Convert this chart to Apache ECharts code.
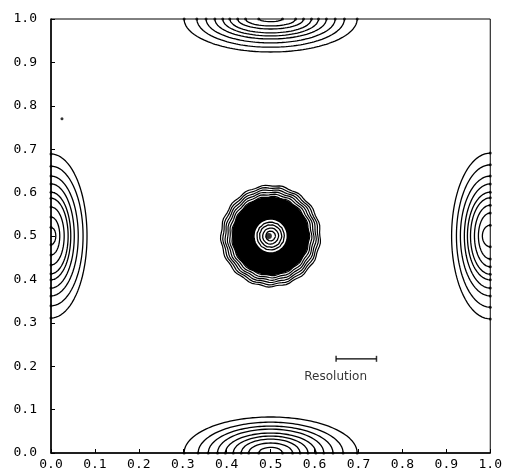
<!DOCTYPE html>
<html>
<head>
<meta charset="utf-8">
<script src="https://cdn.jsdelivr.net/npm/echarts@6/dist/echarts.min.js"></script>
<style>
  html, body { margin: 0; padding: 0; background: #fff; }
  #chart { width: 505px; height: 475px; }
</style>
</head>
<body>
<div id="chart"></div>
<script>
// tick labels
const tickValues = [0, 0.1, 0.2, 0.3, 0.4, 0.5, 0.6, 0.7, 0.8, 0.9, 1.0]

// contour sizes (data units)
const topHalfWidth = [0.197, 0.168, 0.147, 0.127, 0.109, 0.093, 0.075, 0.057, 0.027]
const topDepth = [0.076, 0.065, 0.055, 0.046, 0.039, 0.032, 0.023, 0.016, 0.006]
const bottomHalfWidth = [0.197, 0.165, 0.142, 0.121, 0.103, 0.085, 0.067, 0.050, 0.027]
const bottomHeight = [0.083, 0.071, 0.062, 0.055, 0.046, 0.039, 0.032, 0.023, 0.013]
const leftHalfHeight = [0.189, 0.161, 0.138, 0.120, 0.101, 0.087, 0.067, 0.044, 0.020]
const leftDepth = [0.082, 0.073, 0.062, 0.053, 0.045, 0.039, 0.030, 0.020, 0.011]
const rightHalfHeight = [0.191, 0.164, 0.138, 0.120, 0.101, 0.088, 0.071, 0.053, 0.025]
const rightDepth = [0.088, 0.077, 0.068, 0.059, 0.052, 0.045, 0.036, 0.027, 0.018]

// central peak: outer rings, dense rings, inner rings
const blobOuter = [0.113, 0.108, 0.103, 0.098, 0.093, 0.088]
const blobDense = [0.084, 0.079, 0.074, 0.069, 0.064, 0.059, 0.054, 0.049, 0.044, 0.040]
const blobInner = [0.031, 0.025, 0.018, 0.011]
const blobCenter = [0.5, 0.5]

const resolutionBar = [0.649, 0.741]
const resolutionY = 0.217
const strayDots = [[0.025, 0.77]]

// elliptical arc around (cx, cy)
function arc(cx, cy, a, b, t0, t1) {
  const pts = []
  const n = 90
  for (let i = 0; i <= n; i++) {
    const t = t0 + (t1 - t0) * i / n
    pts.push([cx + a * Math.cos(t), cy + b * Math.sin(t)])
  }
  return pts
}

// ring with a little raggedness like the scanned contours
function ring(cx, cy, r, wobble) {
  const pts = []
  const n = 180
  for (let i = 0; i <= n; i++) {
    const t = 2 * Math.PI * i / n
    const w = 1 + wobble * Math.sin(17 * t + r * 90)
    pts.push([cx + r * w * Math.cos(t), cy + r * 1.03 * w * Math.sin(t)])
  }
  return pts
}

function joined(list) {
  const out = []
  list.forEach(p => { out.push(...p); out.push(null) })
  return out
}

const edgeArcs = []
const endDots = []
topHalfWidth.forEach((a, i) => {
  edgeArcs.push(arc(0.5, 1, a, topDepth[i], Math.PI, 2 * Math.PI))
  endDots.push([0.5 - a, 1], [0.5 + a, 1])
})
bottomHalfWidth.forEach((a, i) => {
  edgeArcs.push(arc(0.5, 0, a, bottomHeight[i], 0, Math.PI))
  endDots.push([0.5 - a, 0], [0.5 + a, 0])
})
leftHalfHeight.forEach((b, i) => {
  edgeArcs.push(arc(0, 0.5, leftDepth[i], b, -Math.PI / 2, Math.PI / 2))
  endDots.push([0, 0.5 - b], [0, 0.5 + b])
})
rightHalfHeight.forEach((b, i) => {
  edgeArcs.push(arc(1, 0.5, rightDepth[i], b, Math.PI / 2, 1.5 * Math.PI))
  endDots.push([1, 0.5 - b], [1, 0.5 + b])
})

const lineBase = {
  type: "line",
  showSymbol: false,
  symbol: "none",
  connectNulls: false,
  silent: true,
  clip: true,
}

const axisCommon = {
  type: "value",
  min: 0,
  max: 1,
  interval: 0.1,
  axisLine: { show: true, lineStyle: { color: "#000", width: 1.5 } },
  axisTick: { show: true, inside: true, length: 4, lineStyle: { color: "#000" } },
  splitLine: { show: false },
  axisLabel: {
    color: "#000",
    fontFamily: "DejaVu Sans Mono",
    fontSize: 13,
    formatter: v => v.toFixed(1),
  },
}

const chart = echarts.init(document.getElementById("chart"))
chart.setOption({
  animation: false,
  backgroundColor: "#fff",
  grid: { left: 51, right: 13, top: 19, bottom: 22, show: true, borderColor: "#000", borderWidth: 1 },
  xAxis: { ...axisCommon, axisLabel: { ...axisCommon.axisLabel, margin: 5 } },
  yAxis: { ...axisCommon, axisLabel: { ...axisCommon.axisLabel, margin: 14 } },
  series: [
    { ...lineBase, data: joined(edgeArcs), lineStyle: { color: "#000", width: 1.3 } },
    { ...lineBase, data: joined(blobOuter.map(r => ring(blobCenter[0], blobCenter[1], r, 0.012))), lineStyle: { color: "#000", width: 1.2 } },
    { ...lineBase, data: joined(blobDense.map(r => ring(blobCenter[0], blobCenter[1], r, 0.004))), lineStyle: { color: "#000", width: 3.2 } },
    { ...lineBase, data: joined(blobInner.map(r => ring(blobCenter[0], blobCenter[1], r, 0.02))), lineStyle: { color: "#000", width: 1.3 } },
    {
      type: "scatter", silent: true, symbol: "circle", symbolSize: 6,
      itemStyle: { color: "#000" }, data: [[blobCenter[0] - 0.004, blobCenter[1]]],
    },
    {
      type: "scatter", silent: true, symbol: "circle", symbolSize: 3,
      itemStyle: { color: "#000" }, data: endDots.concat(strayDots),
    },
    {
      ...lineBase,
      data: resolutionBar.map(x => [x, resolutionY]),
      lineStyle: { color: "#000", width: 1.3 },
    },
    {
      type: "scatter", silent: true, symbol: "rect", symbolSize: [1.5, 6],
      itemStyle: { color: "#000" }, data: resolutionBar.map(x => [x, resolutionY]),
    },
    {
      type: "scatter", silent: true, symbolSize: 0,
      data: [[0.648, 0.175]],
      label: {
        show: true, position: "inside", formatter: "Resolution",
        color: "#000", fontFamily: "DejaVu Sans", fontSize: 12,
      },
    },
  ],
})
</script>
</body>
</html>
